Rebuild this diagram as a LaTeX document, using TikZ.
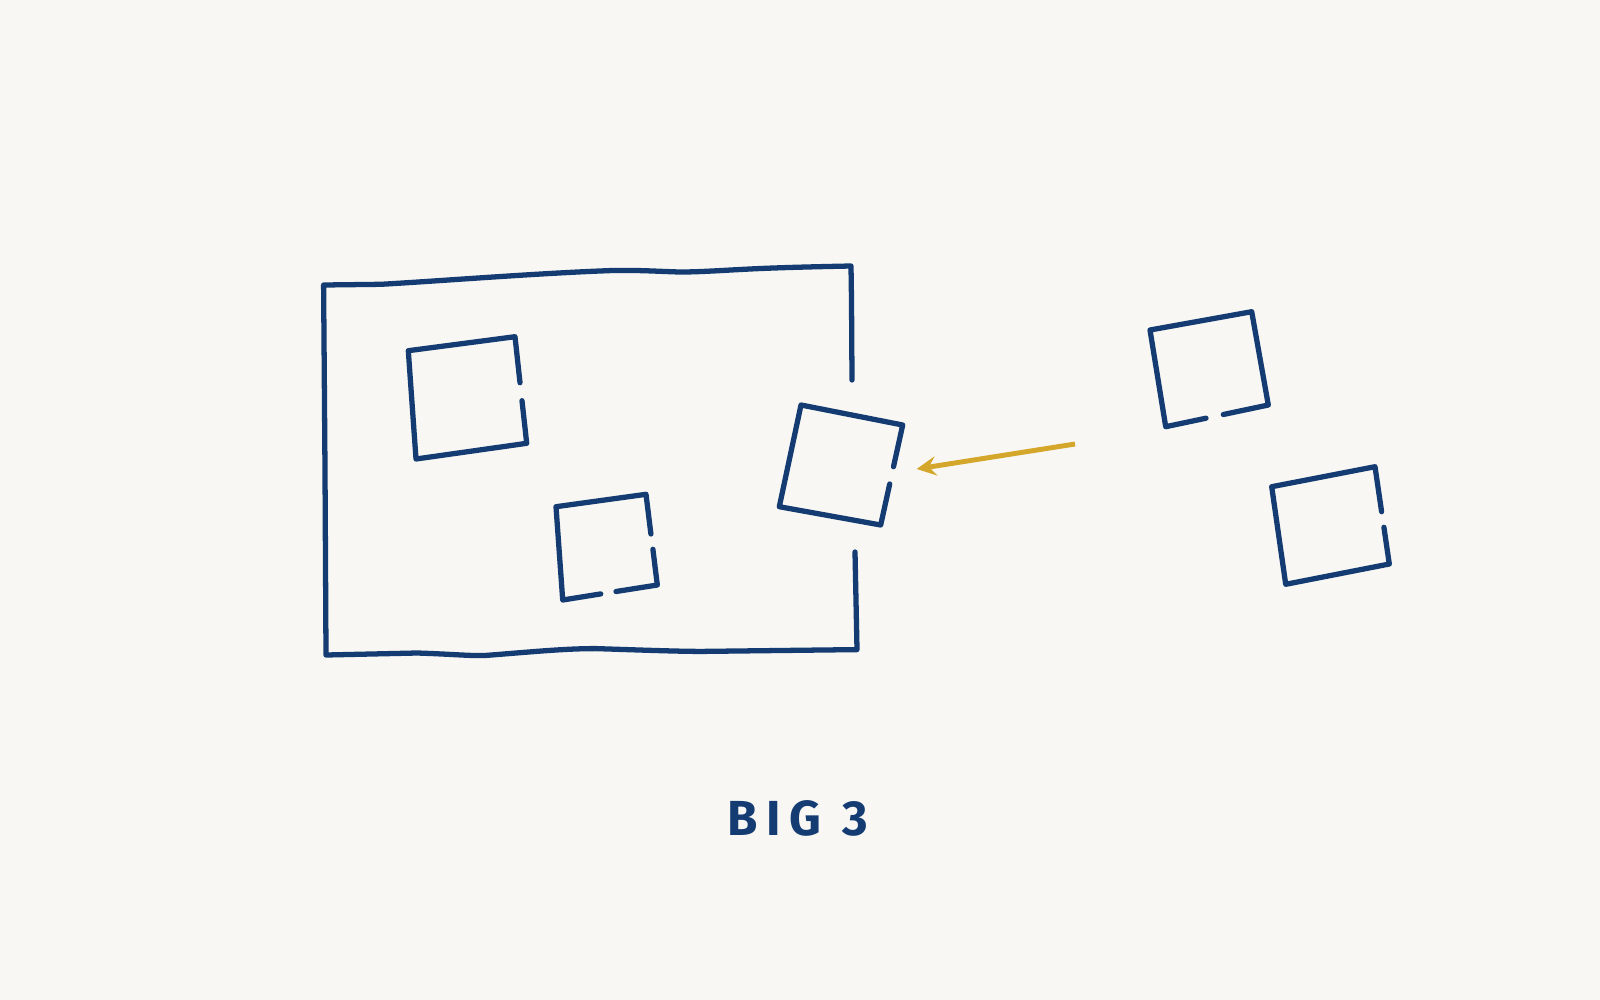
\documentclass[tikz,border=0pt]{standalone}
\usepackage{fontspec}
\setmainfont{Fira Sans}
\usepackage{tikz}
\usetikzlibrary{arrows}
\definecolor{paper}{HTML}{F8F7F3}
\definecolor{ink}{HTML}{143C73}
\definecolor{mustard}{HTML}{D4A62A}
\tikzstyle{pen} = [ink,line width=1.5pt,line cap=round,line join=round]
\tikzstyle{pointer} = [mustard,line width=1.4pt,->,>=stealth]

\begin{document}
\begin{tikzpicture}[x=0.01cm,y=-0.01cm]
  \fill[paper] (0,0) rectangle (1600,1000);
  \useasboundingbox (0,0) rectangle (1600,1000);
  % big frame, open on the right
  \draw[pen] (852,380) -- (851.5,300) -- (851,266) .. controls (800,267) and (770,268) .. (750,269)
    .. controls (720,270.5) and (700,272) .. (680,272) .. controls (660,271.5) and (640,270) .. (613,270.5)
    .. controls (540,273) and (440,281) .. (381,284.3) -- (323.6,285) -- (325,470) -- (326,655)
    -- (417,653) .. controls (450,654) and (470,656) .. (485,655.5) .. controls (530,652) and (565,648.5) .. (596,648.6)
    .. controls (640,650) and (680,651.5) .. (703,651.4) -- (857,649.6) -- (855,552);
  % squares inside
  \draw[pen] (520,382.7) -- (515,336.7) -- (408.3,350.7) -- (416,459) -- (526.7,443.3) -- (522,400.7);
  \draw[pen] (650.9,534) -- (646,494.3) -- (556,506.7) -- (562.7,600) -- (600.7,593.9);
  \draw[pen] (616,591.5) -- (657.3,585) -- (652.9,549.3);
  % square at the door
  \draw[pen] (893.5,466.7) -- (902.7,425) -- (801,405) -- (779.3,506.7) -- (880.7,525) -- (889.7,484);
  % squares outside
  \draw[pen] (1206,418.2) -- (1165.7,426.7) -- (1150,330) -- (1251.7,311.7) -- (1268.3,405) -- (1223.3,414.5);
  \draw[pen] (1381.6,511.7) -- (1375,466.7) -- (1271.7,486.7) -- (1285.7,584.3) -- (1389.3,564) -- (1383.9,527.3);
  % arrow
  \coordinate (tail) at (1075,444);
  \coordinate (tip) at (916.7,469);
  \draw[pointer] (tail) -- (tip);
  \node[ink,font=\addfontfeature{LetterSpace=18}\fontsize{14}{16}\selectfont\bfseries] (caption) at (797.5,818) {BIG 3};
\end{tikzpicture}
\end{document}
